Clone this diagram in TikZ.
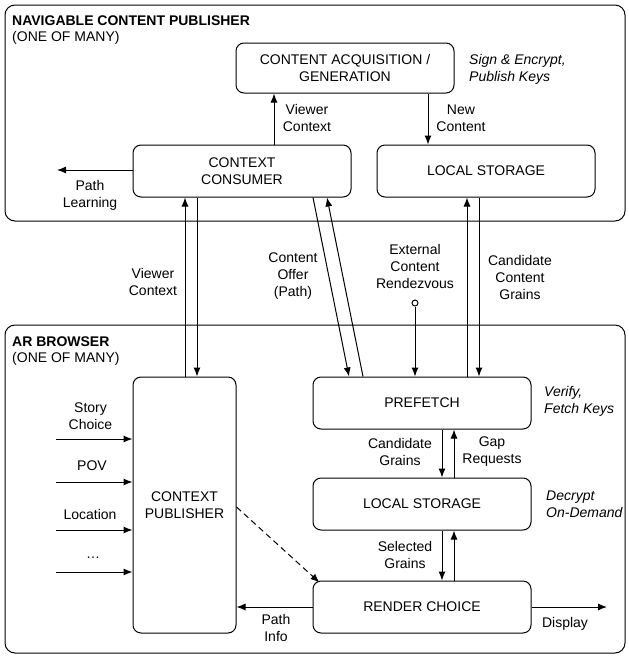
\documentclass[tikz,border=0pt]{standalone}
\usepackage{fontspec}
\setmainfont{Liberation Sans}
\usetikzlibrary{arrows.meta}
\begin{document}
\begin{tikzpicture}[x=1pt,y=-1pt,
  font=\fontsize{14}{17}\selectfont,
  frame/.style={draw, line width=1pt, rounded corners=10pt},
  blk/.style={draw, line width=1pt, rounded corners=8pt, minimum width=218pt, minimum height=52pt, inner sep=0pt, align=center},
  lbl/.style={align=center, inner sep=0pt},
  side/.style={align=left, inner sep=0pt, anchor=west, font=\fontsize{14}{17}\selectfont\itshape},
  ttl/.style={inner sep=0pt, anchor=west},
  arr/.style={line width=1pt, -{Latex[length=9pt,width=7pt]}},
  plain/.style={line width=1pt}]
\useasboundingbox (0,0) rectangle (629,657);
% frames
\draw[frame] (5,5) rectangle (625,221);
\draw[frame] (5,325) rectangle (625,653);
\node[ttl] (t1) at (12,21) {\bfseries NAVIGABLE CONTENT PUBLISHER};
\node[ttl] (t1b) at (12,38) {(ONE OF MANY)};
\node[ttl] (t2) at (12,342) {\bfseries AR BROWSER};
\node[ttl] (t2b) at (12,359) {(ONE OF MANY)};
% blocks
\node[blk, minimum height=50pt] (CA) at (345,68) {CONTENT ACQUISITION /\\GENERATION};
\node[blk] (CC) at (242,171) {CONTEXT\\CONSUMER};
\node[blk] (LS1) at (486,171) {LOCAL STORAGE};
\node[blk, minimum width=103pt, minimum height=256pt] (CP) at (184.5,505) {CONTEXT\\PUBLISHER};
\node[blk] (PF) at (422,403) {PREFETCH};
\node[blk] (LS2) at (422,504) {LOCAL STORAGE};
\node[blk] (RC) at (422,607) {RENDER CHOICE};
% side notes
\node[side] (n1) at (469,69) {Sign \& Encrypt,\\Publish Keys};
\node[side] (n2) at (544,401) {Verify,\\Fetch Keys};
\node[side] (n3) at (546,504) {Decrypt\\On-Demand};
% top connectors
\draw[arr] ([xshift=32]CC.north) -- ([xshift=32]CC.north |- CA.south);
\node[lbl] (l1) at (307,118) {Viewer\\Context};
\draw[arr] ([xshift=83]CA.south) -- ([xshift=83]CA.south |- LS1.north);
\node[lbl] (l2) at (461,118) {New\\Content};
\coordinate (pl) at (57,170);
\draw[arr] (CC.west |- pl) -- (pl);
\node[lbl] (l3) at (90,195) {Path\\Learning};
% middle connectors
\draw[arr] ([xshift=0.5]CP.north) -- ([xshift=0.5]CP.north |- CC.south);
\draw[arr] ([xshift=12.5]CP.north |- CC.south) -- ([xshift=12.5]CP.north);
\node[lbl] (l4) at (153,282) {Viewer\\Context};
\draw[arr] ([xshift=71]CC.south) -- ([xshift=-73]PF.north);
\draw[arr] ([xshift=-59]PF.north) -- ([xshift=85]CC.south);
\node[lbl] (l5) at (293,276) {Content\\Offer\\(Path)};
\node[lbl] (l6) at (415,266.5) {External\\Content\\Rendezvous};
\node[draw, circle, line width=1pt, minimum size=6pt, inner sep=0pt] (rz) at (415,303) {};
\draw[arr] (rz.south) -- (rz.south |- PF.north);
\draw[arr] ([xshift=45]PF.north) -- ([xshift=45]PF.north |- LS1.south);
\draw[arr] ([xshift=57]PF.north |- LS1.south) -- ([xshift=57]PF.north);
\node[lbl] (l7) at (520,277.5) {Candidate\\Content\\Grains};
% bottom connectors
\foreach \yy/\nm in {439/a,482/b,530/c,572/d}{
  \coordinate (in\nm) at (56,\yy);
  \draw[arr] (in\nm) -- (in\nm -| CP.west);
}
\node[lbl] (l8) at (90.5,416) {Story\\Choice};
\node[lbl] (l9) at (92,466) {POV};
\node[lbl] (l10) at (90,514) {Location};
\node[lbl] (l11) at (93,558) {\ldots};
\draw[arr, dashed, dash pattern=on 6pt off 4pt] ([yshift=-2]CP.east) -- ([xshift=7,yshift=-2]RC.north west);
\draw[arr] ([xshift=20]PF.south) -- ([xshift=20]LS2.north);
\draw[arr] ([xshift=32]LS2.north) -- ([xshift=32]PF.south);
\node[lbl] (l12) at (400,452) {Candidate\\Grains};
\node[lbl] (l13) at (492,452) {Gap\\Requests};
\draw[arr] ([xshift=20]LS2.south) -- ([xshift=20]RC.north);
\draw[arr] ([xshift=32]RC.north) -- ([xshift=32]LS2.south);
\node[lbl] (l14) at (405,554.5) {Selected\\Grains};
\draw[arr] (RC.west) -- (RC.west -| CP.east);
\node[lbl] (l15) at (276,627.5) {Path\\Info};
\coordinate (disp) at (607,607);
\draw[arr] (RC.east) -- (disp);
\node[lbl] (l16) at (565,624) {Display};
\end{tikzpicture}
\end{document}
